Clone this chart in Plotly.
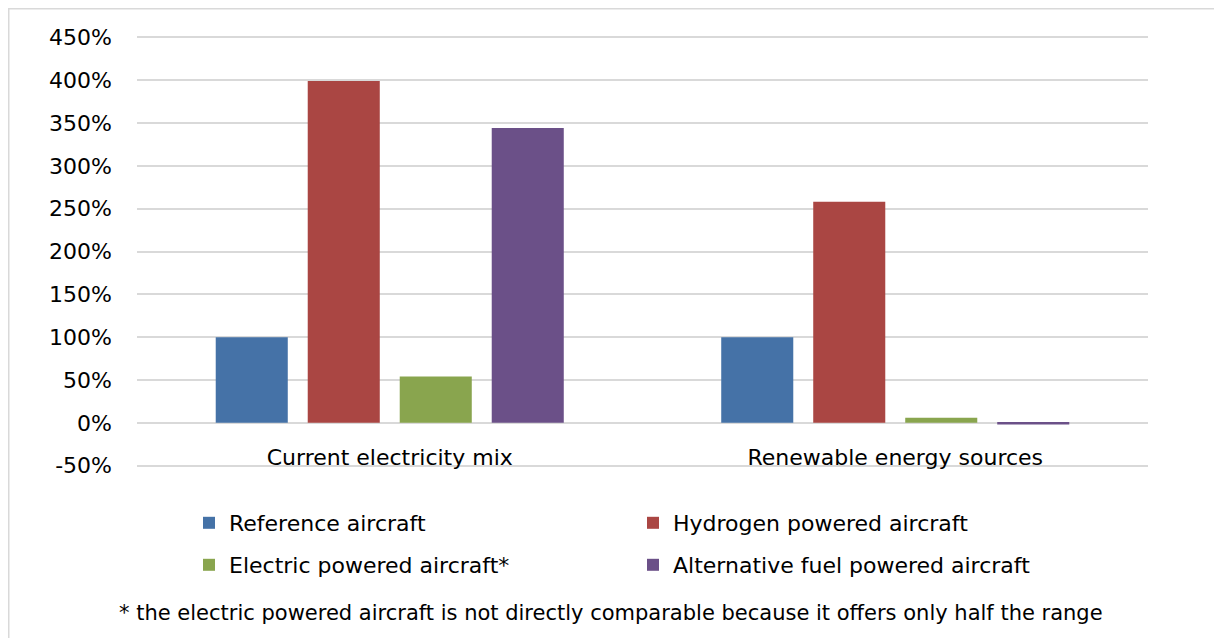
import plotly.graph_objects as go

categories = ["Current electricity mix", "Renewable energy sources"]
series_names = ["Reference aircraft", "Hydrogen powered aircraft",
                "Electric powered aircraft*", "Alternative fuel powered aircraft"]
reference = [100, 100]
hydrogen = [399, 258]
electric = [54, 6]
alternative = [344, -2]
colors = ["#4572A7", "#AA4643", "#89A54E", "#6B5088"]
y_ticks = [-50, 0, 50, 100, 150, 200, 250, 300, 350, 400, 450]
footnote = "* the electric powered aircraft is not directly comparable because it offers only half the range"

FONT = "DejaVu Sans"
OFF = 8  # page body margin
W, H = 1222 - OFF, 638 - OFF
L, R, T, B = 129, 74, 28, 171
pw, ph = W - L - R, H - T - B


def px_x(p):
    return (p - OFF - L) / pw


def px_y(p):
    return (H - B - (p - OFF)) / ph


legend_groups = ["legend", "legend", "legend2", "legend2"]

fig = go.Figure()
for name, vals, col, lg in zip(series_names, [reference, hydrogen, electric, alternative],
                               colors, legend_groups):
    fig.add_trace(go.Bar(x=categories, y=vals, name=name, marker_color=col,
                         marker_line_width=0, legend=lg))

leg_common = dict(orientation="h", xanchor="left", yanchor="middle",
                  entrywidth=399, entrywidthmode="pixels", traceorder="normal",
                  font=dict(size=22, family=FONT), bgcolor="rgba(0,0,0,0)")

fig.update_layout(
    width=W, height=H,
    margin=dict(l=L, r=R, t=T, b=B, pad=0),
    paper_bgcolor="white", plot_bgcolor="white",
    barmode="group", bargap=0.272, bargroupgap=0.217,
    font=dict(family=FONT, size=22, color="#000000"),
    xaxis=dict(anchor="free", position=px_y(423),
               showgrid=False, zeroline=False, showline=False, ticks="",
               ticklabelstandoff=19, tickfont=dict(size=22)),
    yaxis=dict(range=[-51.5, 451.5], tickvals=y_ticks,
               ticktext=[f"{v}%" for v in y_ticks],
               showgrid=True, gridcolor="#D9D9D9", gridwidth=1.5,
               zeroline=True, zerolinecolor="#D9D9D9", zerolinewidth=1.5,
               ticks="", ticklabelstandoff=24, tickfont=dict(size=22)),
    legend=dict(x=px_x(189), y=px_y(523), **leg_common),
    legend2=dict(x=px_x(189), y=px_y(565), **leg_common),
    showlegend=True,
)

fig.add_annotation(text=footnote, xref="paper", yref="paper",
                   x=px_x(611), y=px_y(613), xanchor="center", yanchor="middle",
                   showarrow=False, font=dict(size=21))

fig.add_shape(type="rect", xref="paper", yref="paper",
              x0=px_x(8.75), x1=px_x(1221), y0=px_y(660), y1=px_y(8.75),
              line=dict(color="#D9D9D9", width=1.5), fillcolor="rgba(0,0,0,0)", layer="below")

fig.write_html("out.html")
